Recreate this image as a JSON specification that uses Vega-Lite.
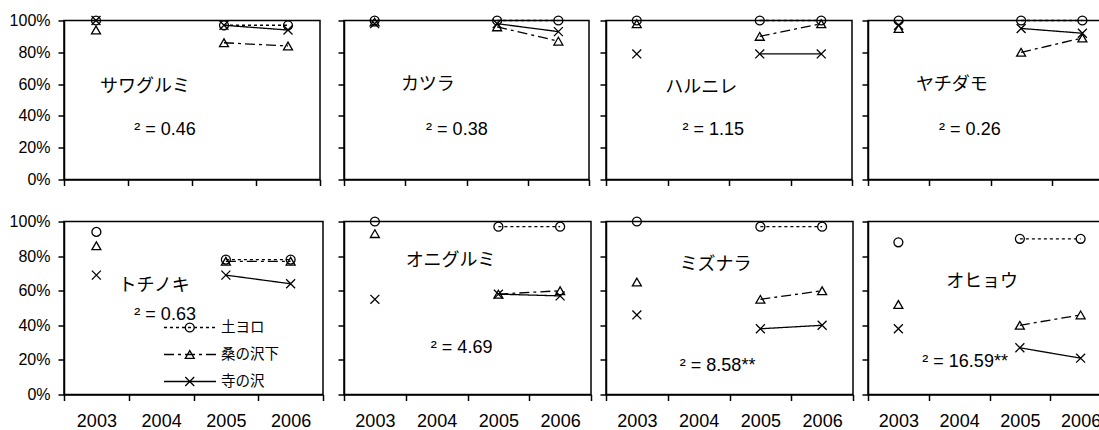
{
  "$schema": "https://vega.github.io/schema/vega-lite/v6.json",
  "background": "white",
  "padding": {"left": 8, "top": 11.5, "right": 0, "bottom": 0},
  "spacing": 0,
  "resolve": {"scale": {"shape": "independent", "strokeDash": "independent"}},
  "datasets": {
    "pts": [
      {"sp": "サワグルミ", "site": "土ヨロ", "year": "2003", "pct": 100},
      {"sp": "サワグルミ", "site": "土ヨロ", "year": "2005", "pct": 97},
      {"sp": "サワグルミ", "site": "土ヨロ", "year": "2006", "pct": 97},
      {"sp": "サワグルミ", "site": "桑の沢下", "year": "2003", "pct": 94},
      {"sp": "サワグルミ", "site": "桑の沢下", "year": "2005", "pct": 86},
      {"sp": "サワグルミ", "site": "桑の沢下", "year": "2006", "pct": 84},
      {"sp": "サワグルミ", "site": "寺の沢", "year": "2003", "pct": 100},
      {"sp": "サワグルミ", "site": "寺の沢", "year": "2005", "pct": 97},
      {"sp": "サワグルミ", "site": "寺の沢", "year": "2006", "pct": 94},
      {"sp": "カツラ", "site": "土ヨロ", "year": "2003", "pct": 100},
      {"sp": "カツラ", "site": "土ヨロ", "year": "2005", "pct": 100},
      {"sp": "カツラ", "site": "土ヨロ", "year": "2006", "pct": 100},
      {"sp": "カツラ", "site": "桑の沢下", "year": "2003", "pct": 99},
      {"sp": "カツラ", "site": "桑の沢下", "year": "2005", "pct": 96},
      {"sp": "カツラ", "site": "桑の沢下", "year": "2006", "pct": 87},
      {"sp": "カツラ", "site": "寺の沢", "year": "2003", "pct": 98},
      {"sp": "カツラ", "site": "寺の沢", "year": "2005", "pct": 98},
      {"sp": "カツラ", "site": "寺の沢", "year": "2006", "pct": 93},
      {"sp": "ハルニレ", "site": "土ヨロ", "year": "2003", "pct": 100},
      {"sp": "ハルニレ", "site": "土ヨロ", "year": "2005", "pct": 100},
      {"sp": "ハルニレ", "site": "土ヨロ", "year": "2006", "pct": 100},
      {"sp": "ハルニレ", "site": "桑の沢下", "year": "2003", "pct": 98},
      {"sp": "ハルニレ", "site": "桑の沢下", "year": "2005", "pct": 90},
      {"sp": "ハルニレ", "site": "桑の沢下", "year": "2006", "pct": 98},
      {"sp": "ハルニレ", "site": "寺の沢", "year": "2003", "pct": 79},
      {"sp": "ハルニレ", "site": "寺の沢", "year": "2005", "pct": 79},
      {"sp": "ハルニレ", "site": "寺の沢", "year": "2006", "pct": 79},
      {"sp": "ヤチダモ", "site": "土ヨロ", "year": "2003", "pct": 100},
      {"sp": "ヤチダモ", "site": "土ヨロ", "year": "2005", "pct": 100},
      {"sp": "ヤチダモ", "site": "土ヨロ", "year": "2006", "pct": 100},
      {"sp": "ヤチダモ", "site": "桑の沢下", "year": "2003", "pct": 95},
      {"sp": "ヤチダモ", "site": "桑の沢下", "year": "2005", "pct": 80},
      {"sp": "ヤチダモ", "site": "桑の沢下", "year": "2006", "pct": 89},
      {"sp": "ヤチダモ", "site": "寺の沢", "year": "2003", "pct": 97},
      {"sp": "ヤチダモ", "site": "寺の沢", "year": "2005", "pct": 95},
      {"sp": "ヤチダモ", "site": "寺の沢", "year": "2006", "pct": 92},
      {"sp": "トチノキ", "site": "土ヨロ", "year": "2003", "pct": 94},
      {"sp": "トチノキ", "site": "土ヨロ", "year": "2005", "pct": 78},
      {"sp": "トチノキ", "site": "土ヨロ", "year": "2006", "pct": 78},
      {"sp": "トチノキ", "site": "桑の沢下", "year": "2003", "pct": 86},
      {"sp": "トチノキ", "site": "桑の沢下", "year": "2005", "pct": 77},
      {"sp": "トチノキ", "site": "桑の沢下", "year": "2006", "pct": 77},
      {"sp": "トチノキ", "site": "寺の沢", "year": "2003", "pct": 69},
      {"sp": "トチノキ", "site": "寺の沢", "year": "2005", "pct": 69},
      {"sp": "トチノキ", "site": "寺の沢", "year": "2006", "pct": 64},
      {"sp": "オニグルミ", "site": "土ヨロ", "year": "2003", "pct": 100},
      {"sp": "オニグルミ", "site": "土ヨロ", "year": "2005", "pct": 97},
      {"sp": "オニグルミ", "site": "土ヨロ", "year": "2006", "pct": 97},
      {"sp": "オニグルミ", "site": "桑の沢下", "year": "2003", "pct": 93},
      {"sp": "オニグルミ", "site": "桑の沢下", "year": "2005", "pct": 58},
      {"sp": "オニグルミ", "site": "桑の沢下", "year": "2006", "pct": 60},
      {"sp": "オニグルミ", "site": "寺の沢", "year": "2003", "pct": 55},
      {"sp": "オニグルミ", "site": "寺の沢", "year": "2005", "pct": 58},
      {"sp": "オニグルミ", "site": "寺の沢", "year": "2006", "pct": 57},
      {"sp": "ミズナラ", "site": "土ヨロ", "year": "2003", "pct": 100},
      {"sp": "ミズナラ", "site": "土ヨロ", "year": "2005", "pct": 97},
      {"sp": "ミズナラ", "site": "土ヨロ", "year": "2006", "pct": 97},
      {"sp": "ミズナラ", "site": "桑の沢下", "year": "2003", "pct": 65},
      {"sp": "ミズナラ", "site": "桑の沢下", "year": "2005", "pct": 55},
      {"sp": "ミズナラ", "site": "桑の沢下", "year": "2006", "pct": 60},
      {"sp": "ミズナラ", "site": "寺の沢", "year": "2003", "pct": 46},
      {"sp": "ミズナラ", "site": "寺の沢", "year": "2005", "pct": 38},
      {"sp": "ミズナラ", "site": "寺の沢", "year": "2006", "pct": 40},
      {"sp": "オヒョウ", "site": "土ヨロ", "year": "2003", "pct": 88},
      {"sp": "オヒョウ", "site": "土ヨロ", "year": "2005", "pct": 90},
      {"sp": "オヒョウ", "site": "土ヨロ", "year": "2006", "pct": 90},
      {"sp": "オヒョウ", "site": "桑の沢下", "year": "2003", "pct": 52},
      {"sp": "オヒョウ", "site": "桑の沢下", "year": "2005", "pct": 40},
      {"sp": "オヒョウ", "site": "桑の沢下", "year": "2006", "pct": 46},
      {"sp": "オヒョウ", "site": "寺の沢", "year": "2003", "pct": 38},
      {"sp": "オヒョウ", "site": "寺の沢", "year": "2005", "pct": 27},
      {"sp": "オヒョウ", "site": "寺の沢", "year": "2006", "pct": 21}
    ],
    "ann": [
      {"sp": "サワグルミ", "chi": "² = 0.46"},
      {"sp": "カツラ", "chi": "² = 0.38"},
      {"sp": "ハルニレ", "chi": "² = 1.15"},
      {"sp": "ヤチダモ", "chi": "² = 0.26"},
      {"sp": "トチノキ", "chi": "² = 0.63"},
      {"sp": "オニグルミ", "chi": "² = 4.69"},
      {"sp": "ミズナラ", "chi": "² = 8.58**"},
      {"sp": "オヒョウ", "chi": "² = 16.59**"}
    ]
  },
  "vconcat": [
    {
      "spacing": 0,
      "resolve": {"scale": {"shape": "independent", "strokeDash": "independent"}},
      "hconcat": [
        {
          "width": 256, "height": 159,
          "resolve": {"axis": {"x": "independent", "y": "independent"}},
          "layer": [
            {"data": {"name": "pts"}, "transform": [{"filter": {"field": "sp", "equal": "サワグルミ"}}, {"filter": {"field": "year", "oneOf": ["2005", "2006"]}}], "mark": {"type": "line", "color": "black", "strokeWidth": 1.3},
             "encoding": {
               "x": {"field": "year", "type": "ordinal", "scale": {"type": "band", "domain": ["2003", "2004", "2005", "2006"], "paddingInner": 0, "paddingOuter": 0}, "axis": {"title": null, "labels": false, "tickBand": "extent", "minExtent": 32}},
               "y": {"field": "pct", "type": "quantitative", "scale": {"domain": [0, 100], "nice": false}, "axis": {"title": null, "values": [0, 20, 40, 60, 80, 100], "labelExpr": "datum.value + '%'", "labelPadding": 8, "labelOverlap": false}},
               "strokeDash": {"field": "site", "type": "nominal", "sort": ["土ヨロ", "桑の沢下", "寺の沢"], "scale": {"range": [[3, 3], [10, 4, 3, 4], [1, 0]]}, "legend": null}}},
            {"data": {"name": "pts"}, "transform": [{"filter": {"field": "sp", "equal": "サワグルミ"}}], "mark": {"type": "point", "filled": false, "color": "black", "strokeWidth": 1.3, "size": 80, "opacity": 1},
             "encoding": {"x": {"field": "year", "type": "ordinal", "axis": null}, "y": {"field": "pct", "type": "quantitative", "axis": null},
               "shape": {"field": "site", "type": "nominal", "scale": {"domain": ["土ヨロ", "桑の沢下", "寺の沢"], "range": ["circle", "triangle-up", "M-1,-1L1,1M-1,1L1,-1"]}, "legend": null}}},
            {"data": {"name": "ann"}, "transform": [{"filter": {"field": "sp", "equal": "サワグルミ"}}], "mark": {"type": "text", "font": "Noto Sans CJK JP", "fontSize": 18, "fill": "black", "dx": -15},
             "encoding": {"x": {"datum": "2004", "type": "ordinal", "axis": null}, "y": {"datum": 58.4, "type": "quantitative", "axis": null}, "text": {"field": "sp", "type": "nominal"}}},
            {"data": {"name": "ann"}, "transform": [{"filter": {"field": "sp", "equal": "サワグルミ"}}], "mark": {"type": "text", "font": "Liberation Sans", "fontSize": 18, "fill": "black", "dx": 5},
             "encoding": {"x": {"datum": "2004", "type": "ordinal", "axis": null}, "y": {"datum": 31, "type": "quantitative", "axis": null}, "text": {"field": "chi", "type": "nominal"}}}
          ]
        },
        {
          "width": 245, "height": 159,
          "resolve": {"axis": {"x": "independent", "y": "independent"}},
          "layer": [
            {"data": {"name": "pts"}, "transform": [{"filter": {"field": "sp", "equal": "カツラ"}}, {"filter": {"field": "year", "oneOf": ["2005", "2006"]}}], "mark": {"type": "line", "color": "black", "strokeWidth": 1.3},
             "encoding": {
               "x": {"field": "year", "type": "ordinal", "scale": {"type": "band", "domain": ["2003", "2004", "2005", "2006"], "paddingInner": 0, "paddingOuter": 0}, "axis": {"title": null, "labels": false, "tickBand": "extent", "minExtent": 32}},
               "y": {"field": "pct", "type": "quantitative", "scale": {"domain": [0, 100], "nice": false}, "axis": {"title": null, "values": [0, 20, 40, 60, 80, 100], "labels": false, "minExtent": 21}},
               "strokeDash": {"field": "site", "type": "nominal", "sort": ["土ヨロ", "桑の沢下", "寺の沢"], "scale": {"range": [[3, 3], [10, 4, 3, 4], [1, 0]]}, "legend": null}}},
            {"data": {"name": "pts"}, "transform": [{"filter": {"field": "sp", "equal": "カツラ"}}], "mark": {"type": "point", "filled": false, "color": "black", "strokeWidth": 1.3, "size": 80, "opacity": 1},
             "encoding": {"x": {"field": "year", "type": "ordinal", "axis": null}, "y": {"field": "pct", "type": "quantitative", "axis": null},
               "shape": {"field": "site", "type": "nominal", "scale": {"domain": ["土ヨロ", "桑の沢下", "寺の沢"], "range": ["circle", "triangle-up", "M-1,-1L1,1M-1,1L1,-1"]}, "legend": null}}},
            {"data": {"name": "ann"}, "transform": [{"filter": {"field": "sp", "equal": "カツラ"}}], "mark": {"type": "text", "font": "Noto Sans CJK JP", "fontSize": 18, "fill": "black", "dx": -8},
             "encoding": {"x": {"datum": "2004", "type": "ordinal", "axis": null}, "y": {"datum": 59.5, "type": "quantitative", "axis": null}, "text": {"field": "sp", "type": "nominal"}}},
            {"data": {"name": "ann"}, "transform": [{"filter": {"field": "sp", "equal": "カツラ"}}], "mark": {"type": "text", "font": "Liberation Sans", "fontSize": 18, "fill": "black", "dx": 21},
             "encoding": {"x": {"datum": "2004", "type": "ordinal", "axis": null}, "y": {"datum": 31, "type": "quantitative", "axis": null}, "text": {"field": "chi", "type": "nominal"}}}
          ]
        },
        {
          "width": 246, "height": 159,
          "resolve": {"axis": {"x": "independent", "y": "independent"}},
          "layer": [
            {"data": {"name": "pts"}, "transform": [{"filter": {"field": "sp", "equal": "ハルニレ"}}, {"filter": {"field": "year", "oneOf": ["2005", "2006"]}}], "mark": {"type": "line", "color": "black", "strokeWidth": 1.3},
             "encoding": {
               "x": {"field": "year", "type": "ordinal", "scale": {"type": "band", "domain": ["2003", "2004", "2005", "2006"], "paddingInner": 0, "paddingOuter": 0}, "axis": {"title": null, "labels": false, "tickBand": "extent", "minExtent": 32}},
               "y": {"field": "pct", "type": "quantitative", "scale": {"domain": [0, 100], "nice": false}, "axis": {"title": null, "values": [0, 20, 40, 60, 80, 100], "labels": false, "minExtent": 14}},
               "strokeDash": {"field": "site", "type": "nominal", "sort": ["土ヨロ", "桑の沢下", "寺の沢"], "scale": {"range": [[3, 3], [10, 4, 3, 4], [1, 0]]}, "legend": null}}},
            {"data": {"name": "pts"}, "transform": [{"filter": {"field": "sp", "equal": "ハルニレ"}}], "mark": {"type": "point", "filled": false, "color": "black", "strokeWidth": 1.3, "size": 80, "opacity": 1},
             "encoding": {"x": {"field": "year", "type": "ordinal", "axis": null}, "y": {"field": "pct", "type": "quantitative", "axis": null},
               "shape": {"field": "site", "type": "nominal", "scale": {"domain": ["土ヨロ", "桑の沢下", "寺の沢"], "range": ["circle", "triangle-up", "M-1,-1L1,1M-1,1L1,-1"]}, "legend": null}}},
            {"data": {"name": "ann"}, "transform": [{"filter": {"field": "sp", "equal": "ハルニレ"}}], "mark": {"type": "text", "font": "Noto Sans CJK JP", "fontSize": 18, "fill": "black", "dx": 3},
             "encoding": {"x": {"datum": "2004", "type": "ordinal", "axis": null}, "y": {"datum": 57.5, "type": "quantitative", "axis": null}, "text": {"field": "sp", "type": "nominal"}}},
            {"data": {"name": "ann"}, "transform": [{"filter": {"field": "sp", "equal": "ハルニレ"}}], "mark": {"type": "text", "font": "Liberation Sans", "fontSize": 18, "fill": "black", "dx": 15},
             "encoding": {"x": {"datum": "2004", "type": "ordinal", "axis": null}, "y": {"datum": 31, "type": "quantitative", "axis": null}, "text": {"field": "chi", "type": "nominal"}}}
          ]
        },
        {
          "width": 245, "height": 159,
          "resolve": {"axis": {"x": "independent", "y": "independent"}},
          "layer": [
            {"data": {"name": "pts"}, "transform": [{"filter": {"field": "sp", "equal": "ヤチダモ"}}, {"filter": {"field": "year", "oneOf": ["2005", "2006"]}}], "mark": {"type": "line", "color": "black", "strokeWidth": 1.3},
             "encoding": {
               "x": {"field": "year", "type": "ordinal", "scale": {"type": "band", "domain": ["2003", "2004", "2005", "2006"], "paddingInner": 0, "paddingOuter": 0}, "axis": {"title": null, "labels": false, "tickBand": "extent", "minExtent": 32}},
               "y": {"field": "pct", "type": "quantitative", "scale": {"domain": [0, 100], "nice": false}, "axis": {"title": null, "values": [0, 20, 40, 60, 80, 100], "labels": false, "minExtent": 13}},
               "strokeDash": {"field": "site", "type": "nominal", "sort": ["土ヨロ", "桑の沢下", "寺の沢"], "scale": {"range": [[3, 3], [10, 4, 3, 4], [1, 0]]}, "legend": null}}},
            {"data": {"name": "pts"}, "transform": [{"filter": {"field": "sp", "equal": "ヤチダモ"}}], "mark": {"type": "point", "filled": false, "color": "black", "strokeWidth": 1.3, "size": 80, "opacity": 1},
             "encoding": {"x": {"field": "year", "type": "ordinal", "axis": null}, "y": {"field": "pct", "type": "quantitative", "axis": null},
               "shape": {"field": "site", "type": "nominal", "scale": {"domain": ["土ヨロ", "桑の沢下", "寺の沢"], "range": ["circle", "triangle-up", "M-1,-1L1,1M-1,1L1,-1"]}, "legend": null}}},
            {"data": {"name": "ann"}, "transform": [{"filter": {"field": "sp", "equal": "ヤチダモ"}}], "mark": {"type": "text", "font": "Noto Sans CJK JP", "fontSize": 18, "fill": "black", "dx": -8},
             "encoding": {"x": {"datum": "2004", "type": "ordinal", "axis": null}, "y": {"datum": 59.5, "type": "quantitative", "axis": null}, "text": {"field": "sp", "type": "nominal"}}},
            {"data": {"name": "ann"}, "transform": [{"filter": {"field": "sp", "equal": "ヤチダモ"}}], "mark": {"type": "text", "font": "Liberation Sans", "fontSize": 18, "fill": "black", "dx": 10},
             "encoding": {"x": {"datum": "2004", "type": "ordinal", "axis": null}, "y": {"datum": 31, "type": "quantitative", "axis": null}, "text": {"field": "chi", "type": "nominal"}}}
          ]
        }
      ]
    },
    {
      "spacing": 0,
      "resolve": {"scale": {"shape": "independent", "strokeDash": "independent"}},
      "hconcat": [
        {
          "width": 259, "height": 173,
          "resolve": {"axis": {"x": "independent", "y": "independent"}},
          "layer": [
            {"data": {"name": "pts"}, "transform": [{"filter": {"field": "sp", "equal": "トチノキ"}}, {"filter": {"field": "year", "oneOf": ["2005", "2006"]}}], "mark": {"type": "line", "color": "black", "strokeWidth": 1.3},
             "encoding": {
               "x": {"field": "year", "type": "ordinal", "scale": {"type": "band", "domain": ["2003", "2004", "2005", "2006"], "paddingInner": 0, "paddingOuter": 0}, "axis": {"title": null, "tickBand": "extent", "labelFontSize": 18, "labelPadding": 12, "labelAngle": 0, "labelOverlap": false}},
               "y": {"field": "pct", "type": "quantitative", "scale": {"domain": [0, 100], "nice": false}, "axis": {"title": null, "values": [0, 20, 40, 60, 80, 100], "labelExpr": "datum.value + '%'", "labelPadding": 8, "labelOverlap": false}},
               "strokeDash": {"field": "site", "type": "nominal", "sort": ["土ヨロ", "桑の沢下", "寺の沢"], "scale": {"range": [[3, 3], [10, 4, 3, 4], [1, 0]]},
                 "legend": {"orient": "none", "legendX": 99, "legendY": 98, "title": null, "symbolType": "stroke", "symbolSize": 2704, "symbolStrokeWidth": 1.3, "symbolStrokeColor": "black", "clipHeight": 16, "rowPadding": 11, "labelFont": "Noto Sans CJK JP", "labelFontSize": 14.5, "labelColor": "black", "labelOffset": 4, "padding": 0}}}},
            {"data": {"name": "pts"}, "transform": [{"filter": {"field": "sp", "equal": "トチノキ"}}], "mark": {"type": "point", "filled": false, "color": "black", "strokeWidth": 1.3, "size": 80, "opacity": 1},
             "encoding": {"x": {"field": "year", "type": "ordinal", "axis": null}, "y": {"field": "pct", "type": "quantitative", "axis": null},
               "shape": {"field": "site", "type": "nominal", "scale": {"domain": ["土ヨロ", "桑の沢下", "寺の沢"], "range": ["circle", "triangle-up", "M-1,-1L1,1M-1,1L1,-1"]},
                 "legend": {"orient": "none", "legendX": 118.5, "legendY": 98, "title": null, "symbolSize": 80, "symbolStrokeWidth": 1.3, "symbolStrokeColor": "black", "clipHeight": 16, "rowPadding": 11, "labelFontSize": 14.5, "labelExpr": "''", "padding": 0}}}},
            {"data": {"name": "ann"}, "transform": [{"filter": {"field": "sp", "equal": "トチノキ"}}], "mark": {"type": "text", "font": "Noto Sans CJK JP", "fontSize": 18, "fill": "black", "dx": -7},
             "encoding": {"x": {"datum": "2004", "type": "ordinal", "axis": null}, "y": {"datum": 62.5, "type": "quantitative", "axis": null}, "text": {"field": "sp", "type": "nominal"}}},
            {"data": {"name": "ann"}, "transform": [{"filter": {"field": "sp", "equal": "トチノキ"}}], "mark": {"type": "text", "font": "Liberation Sans", "fontSize": 18, "fill": "black", "dx": 4},
             "encoding": {"x": {"datum": "2004", "type": "ordinal", "axis": null}, "y": {"datum": 46, "type": "quantitative", "axis": null}, "text": {"field": "chi", "type": "nominal"}}}
          ]
        },
        {
          "width": 247, "height": 173,
          "resolve": {"axis": {"x": "independent", "y": "independent"}},
          "layer": [
            {"data": {"name": "pts"}, "transform": [{"filter": {"field": "sp", "equal": "オニグルミ"}}, {"filter": {"field": "year", "oneOf": ["2005", "2006"]}}], "mark": {"type": "line", "color": "black", "strokeWidth": 1.3},
             "encoding": {
               "x": {"field": "year", "type": "ordinal", "scale": {"type": "band", "domain": ["2003", "2004", "2005", "2006"], "paddingInner": 0, "paddingOuter": 0}, "axis": {"title": null, "tickBand": "extent", "labelFontSize": 18, "labelPadding": 12, "labelAngle": 0, "labelOverlap": false}},
               "y": {"field": "pct", "type": "quantitative", "scale": {"domain": [0, 100], "nice": false}, "axis": {"title": null, "values": [0, 20, 40, 60, 80, 100], "labels": false, "minExtent": 18}},
               "strokeDash": {"field": "site", "type": "nominal", "sort": ["土ヨロ", "桑の沢下", "寺の沢"], "scale": {"range": [[3, 3], [10, 4, 3, 4], [1, 0]]}, "legend": null}}},
            {"data": {"name": "pts"}, "transform": [{"filter": {"field": "sp", "equal": "オニグルミ"}}], "mark": {"type": "point", "filled": false, "color": "black", "strokeWidth": 1.3, "size": 80, "opacity": 1},
             "encoding": {"x": {"field": "year", "type": "ordinal", "axis": null}, "y": {"field": "pct", "type": "quantitative", "axis": null},
               "shape": {"field": "site", "type": "nominal", "scale": {"domain": ["土ヨロ", "桑の沢下", "寺の沢"], "range": ["circle", "triangle-up", "M-1,-1L1,1M-1,1L1,-1"]}, "legend": null}}},
            {"data": {"name": "ann"}, "transform": [{"filter": {"field": "sp", "equal": "オニグルミ"}}], "mark": {"type": "text", "font": "Noto Sans CJK JP", "fontSize": 18, "fill": "black", "dx": 14},
             "encoding": {"x": {"datum": "2004", "type": "ordinal", "axis": null}, "y": {"datum": 77, "type": "quantitative", "axis": null}, "text": {"field": "sp", "type": "nominal"}}},
            {"data": {"name": "ann"}, "transform": [{"filter": {"field": "sp", "equal": "オニグルミ"}}], "mark": {"type": "text", "font": "Liberation Sans", "fontSize": 18, "fill": "black", "dx": 25},
             "encoding": {"x": {"datum": "2004", "type": "ordinal", "axis": null}, "y": {"datum": 27, "type": "quantitative", "axis": null}, "text": {"field": "chi", "type": "nominal"}}}
          ]
        },
        {
          "width": 247, "height": 173,
          "resolve": {"axis": {"x": "independent", "y": "independent"}},
          "layer": [
            {"data": {"name": "pts"}, "transform": [{"filter": {"field": "sp", "equal": "ミズナラ"}}, {"filter": {"field": "year", "oneOf": ["2005", "2006"]}}], "mark": {"type": "line", "color": "black", "strokeWidth": 1.3},
             "encoding": {
               "x": {"field": "year", "type": "ordinal", "scale": {"type": "band", "domain": ["2003", "2004", "2005", "2006"], "paddingInner": 0, "paddingOuter": 0}, "axis": {"title": null, "tickBand": "extent", "labelFontSize": 18, "labelPadding": 12, "labelAngle": 0, "labelOverlap": false}},
               "y": {"field": "pct", "type": "quantitative", "scale": {"domain": [0, 100], "nice": false}, "axis": {"title": null, "values": [0, 20, 40, 60, 80, 100], "labels": false, "minExtent": 12}},
               "strokeDash": {"field": "site", "type": "nominal", "sort": ["土ヨロ", "桑の沢下", "寺の沢"], "scale": {"range": [[3, 3], [10, 4, 3, 4], [1, 0]]}, "legend": null}}},
            {"data": {"name": "pts"}, "transform": [{"filter": {"field": "sp", "equal": "ミズナラ"}}], "mark": {"type": "point", "filled": false, "color": "black", "strokeWidth": 1.3, "size": 80, "opacity": 1},
             "encoding": {"x": {"field": "year", "type": "ordinal", "axis": null}, "y": {"field": "pct", "type": "quantitative", "axis": null},
               "shape": {"field": "site", "type": "nominal", "scale": {"domain": ["土ヨロ", "桑の沢下", "寺の沢"], "range": ["circle", "triangle-up", "M-1,-1L1,1M-1,1L1,-1"]}, "legend": null}}},
            {"data": {"name": "ann"}, "transform": [{"filter": {"field": "sp", "equal": "ミズナラ"}}], "mark": {"type": "text", "font": "Noto Sans CJK JP", "fontSize": 18, "fill": "black", "dx": 17},
             "encoding": {"x": {"datum": "2004", "type": "ordinal", "axis": null}, "y": {"datum": 75, "type": "quantitative", "axis": null}, "text": {"field": "sp", "type": "nominal"}}},
            {"data": {"name": "ann"}, "transform": [{"filter": {"field": "sp", "equal": "ミズナラ"}}], "mark": {"type": "text", "font": "Liberation Sans", "fontSize": 18, "fill": "black", "dx": 19},
             "encoding": {"x": {"datum": "2004", "type": "ordinal", "axis": null}, "y": {"datum": 16.5, "type": "quantitative", "axis": null}, "text": {"field": "chi", "type": "nominal"}}}
          ]
        },
        {
          "width": 243, "height": 173,
          "resolve": {"axis": {"x": "independent", "y": "independent"}},
          "layer": [
            {"data": {"name": "pts"}, "transform": [{"filter": {"field": "sp", "equal": "オヒョウ"}}, {"filter": {"field": "year", "oneOf": ["2005", "2006"]}}], "mark": {"type": "line", "color": "black", "strokeWidth": 1.3},
             "encoding": {
               "x": {"field": "year", "type": "ordinal", "scale": {"type": "band", "domain": ["2003", "2004", "2005", "2006"], "paddingInner": 0, "paddingOuter": 0}, "axis": {"title": null, "tickBand": "extent", "labelFontSize": 18, "labelPadding": 12, "labelAngle": 0, "labelOverlap": false}},
               "y": {"field": "pct", "type": "quantitative", "scale": {"domain": [0, 100], "nice": false}, "axis": {"title": null, "values": [0, 20, 40, 60, 80, 100], "labels": false, "minExtent": 12}},
               "strokeDash": {"field": "site", "type": "nominal", "sort": ["土ヨロ", "桑の沢下", "寺の沢"], "scale": {"range": [[3, 3], [10, 4, 3, 4], [1, 0]]}, "legend": null}}},
            {"data": {"name": "pts"}, "transform": [{"filter": {"field": "sp", "equal": "オヒョウ"}}], "mark": {"type": "point", "filled": false, "color": "black", "strokeWidth": 1.3, "size": 80, "opacity": 1},
             "encoding": {"x": {"field": "year", "type": "ordinal", "axis": null}, "y": {"field": "pct", "type": "quantitative", "axis": null},
               "shape": {"field": "site", "type": "nominal", "scale": {"domain": ["土ヨロ", "桑の沢下", "寺の沢"], "range": ["circle", "triangle-up", "M-1,-1L1,1M-1,1L1,-1"]}, "legend": null}}},
            {"data": {"name": "ann"}, "transform": [{"filter": {"field": "sp", "equal": "オヒョウ"}}], "mark": {"type": "text", "font": "Noto Sans CJK JP", "fontSize": 18, "fill": "black", "dx": 23},
             "encoding": {"x": {"datum": "2004", "type": "ordinal", "axis": null}, "y": {"datum": 65, "type": "quantitative", "axis": null}, "text": {"field": "sp", "type": "nominal"}}},
            {"data": {"name": "ann"}, "transform": [{"filter": {"field": "sp", "equal": "オヒョウ"}}], "mark": {"type": "text", "font": "Liberation Sans", "fontSize": 18, "fill": "black", "dx": 6},
             "encoding": {"x": {"datum": "2004", "type": "ordinal", "axis": null}, "y": {"datum": 19, "type": "quantitative", "axis": null}, "text": {"field": "chi", "type": "nominal"}}}
          ]
        }
      ]
    }
  ],
  "config": {
    "view": {"stroke": "black", "strokeWidth": 1.5},
    "axis": {"domainColor": "black", "tickColor": "black", "domainWidth": 1.5, "tickWidth": 1.5, "tickSize": 6, "labelColor": "black", "labelFont": "Liberation Sans", "labelFontSize": 16, "grid": false}
  }
}
